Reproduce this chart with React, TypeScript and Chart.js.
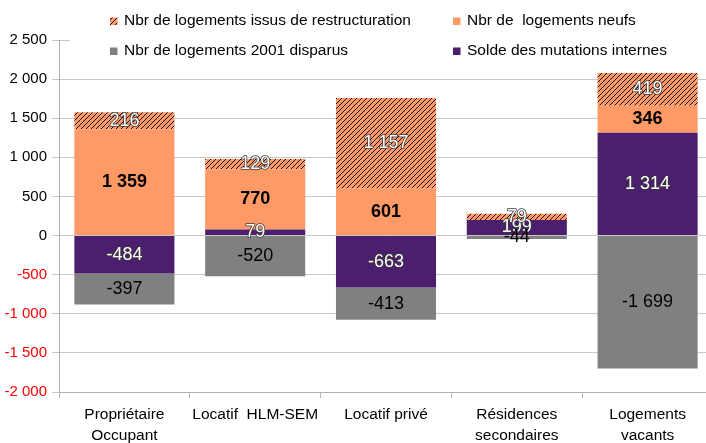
import React, { useEffect, useRef } from "react";
import { Chart, registerables } from "chart.js";

Chart.register(...registerables);

const categories: string[][] = [
  ["Propriétaire", "Occupant"],
  ["Locatif  HLM-SEM"],
  ["Locatif privé"],
  ["Résidences", "secondaires"],
  ["Logements", "vacants"],
];
const soldeMutations = [-484, 79, -663, 199, 1314];
const logementsNeufs = [1359, 770, 601, 0, 346];
const restructuration = [216, 129, 1157, 79, 419];
const disparus = [-397, -520, -413, -44, -1699];
const yMin = -2000;
const yMax = 2500;
const yStep = 500;

const legendLabels = [
  "Nbr de logements issus de restructuration",
  "Nbr de  logements neufs",
  "Nbr de logements 2001 disparus",
  "Solde des mutations internes",
];

const ORANGE = "#ff9966";
const PURPLE = "#4b1f6e";
const GRAY = "#808080";
const FONT = "'Liberation Sans', Arial, sans-serif";

function fmt(v: number): string {
  const s = String(Math.abs(Math.round(v))).replace(/\B(?=(\d{3})+(?!\d))/g, " ");
  return (v < 0 ? "-" : "") + s;
}

function makeHatch(): CanvasPattern | string {
  const c = document.createElement("canvas");
  const s = 5;
  c.width = s;
  c.height = s;
  const g = c.getContext("2d");
  if (!g) return ORANGE;
  g.fillStyle = ORANGE;
  g.fillRect(0, 0, s, s);
  g.strokeStyle = "#000";
  g.lineWidth = 0.9;
  g.beginPath();
  g.moveTo(-1, s + 1);
  g.lineTo(s + 1, -1);
  g.moveTo(-1, 1);
  g.lineTo(1, -1);
  g.moveTo(s - 1, s + 1);
  g.lineTo(s + 1, s - 1);
  g.stroke();
  const p = g.createPattern(c, "repeat");
  return p || ORANGE;
}

const labelPlugin = {
  id: "barLabels",
  afterDatasetsDraw(chart: any) {
    const ctx = chart.ctx;
    ctx.save();
    ctx.textAlign = "center";
    ctx.textBaseline = "middle";
    chart.data.datasets.forEach((ds: any, di: number) => {
      const meta = chart.getDatasetMeta(di);
      meta.data.forEach((el: any, i: number) => {
        const v = ds.data[i];
        if (!v) return;
        const x = el.x;
        const y = (el.y + el.base) / 2;
        const txt = fmt(v);
        const style = ds.labelStyle;
        if (style === "bold") {
          ctx.font = `bold 18px ${FONT}`;
          ctx.fillStyle = "#000";
          ctx.fillText(txt, x, y);
        } else if (style === "plain") {
          ctx.font = `18px ${FONT}`;
          ctx.fillStyle = "#000";
          ctx.fillText(txt, x, y);
        } else {
          ctx.font = `18px ${FONT}`;
          ctx.lineWidth = 1.6;
          ctx.strokeStyle = "#3a3a3a";
          ctx.lineJoin = "round";
          ctx.strokeText(txt, x, y);
          ctx.fillStyle = "#ffffff";
          ctx.fillText(txt, x, y);
        }
      });
    });
    ctx.restore();
  },
};

const legendPlugin = {
  id: "customLegend",
  afterDraw(chart: any) {
    const ctx = chart.ctx;
    const hatch = chart.$hatch;
    ctx.save();
    ctx.fillStyle = "#ffffff";
    ctx.fillRect(70, 3, 640, 61);
    const items = [
      { label: legendLabels[0], fill: hatch, x: 110, y: 21 },
      { label: legendLabels[1], fill: ORANGE, x: 453, y: 21 },
      { label: legendLabels[2], fill: GRAY, x: 110, y: 51 },
      { label: legendLabels[3], fill: PURPLE, x: 453, y: 51 },
    ];
    ctx.font = `15.5px ${FONT}`;
    ctx.textBaseline = "middle";
    ctx.textAlign = "left";
    items.forEach((it) => {
      ctx.fillStyle = it.fill;
      ctx.fillRect(it.x, it.y - 3.5, 7.5, 7.5);
      ctx.fillStyle = "#000";
      ctx.fillText(it.label, it.x + 14, it.y);
    });
    ctx.restore();
  },
};

export default function App() {
  const ref = useRef<HTMLCanvasElement | null>(null);

  useEffect(() => {
    if (!ref.current) return;
    const hatch = makeHatch();
    const chart: any = new Chart(ref.current, {
      type: "bar",
      data: {
        labels: categories as any,
        datasets: [
          { label: legendLabels[3], data: soldeMutations, backgroundColor: PURPLE, labelStyle: "outline" } as any,
          { label: legendLabels[1], data: logementsNeufs, backgroundColor: ORANGE, labelStyle: "bold" } as any,
          { label: legendLabels[0], data: restructuration, backgroundColor: hatch, labelStyle: "outline" } as any,
          { label: legendLabels[2], data: disparus, backgroundColor: GRAY, labelStyle: "plain" } as any,
        ],
      },
      options: {
        responsive: false,
        animation: false,
        devicePixelRatio: 1,
        layout: { padding: { top: 40, right: 1, left: 0, bottom: 0 } },
        datasets: { bar: { categoryPercentage: 1, barPercentage: 0.765, borderWidth: 0 } },
        plugins: {
          legend: { display: false },
          tooltip: { enabled: false },
        },
        scales: {
          x: {
            stacked: true,
            offset: true,
            grid: { drawOnChartArea: false, offset: true, tickLength: 6, color: "#b3b3b3" },
            border: { color: "#b3b3b3" },
            ticks: {
              color: "#000",
              padding: 6,
              maxRotation: 0,
              autoSkip: false,
              font: { family: FONT, size: 15.5, lineHeight: 1.35 },
            },
            afterFit: (s: any) => {
              s.height = 51;
            },
          },
          y: {
            stacked: true,
            min: yMin,
            max: yMax,
            grid: { color: "#c8c8c8", tickLength: 7 },
            border: { color: "#b3b3b3" },
            ticks: {
              stepSize: yStep,
              padding: 5,
              font: { family: FONT, size: 15 },
              color: (c: any) => (c.tick && c.tick.value < 0 ? "#ff0000" : "#000"),
              callback: (v: any) => fmt(Number(v)),
            },
            afterFit: (s: any) => {
              s.width = 59;
            },
          },
        },
      } as any,
      plugins: [labelPlugin, legendPlugin],
    });
    chart.$hatch = hatch;
    chart.draw();
    return () => chart.destroy();
  }, []);

  return (
    <div style={{ position: "absolute", left: 0, top: 0, width: 706, height: 443, overflow: "hidden", background: "#fff" }}>
      <canvas ref={ref} width={714} height={443} style={{ display: "block", width: 714, height: 443 }} />
    </div>
  );
}
